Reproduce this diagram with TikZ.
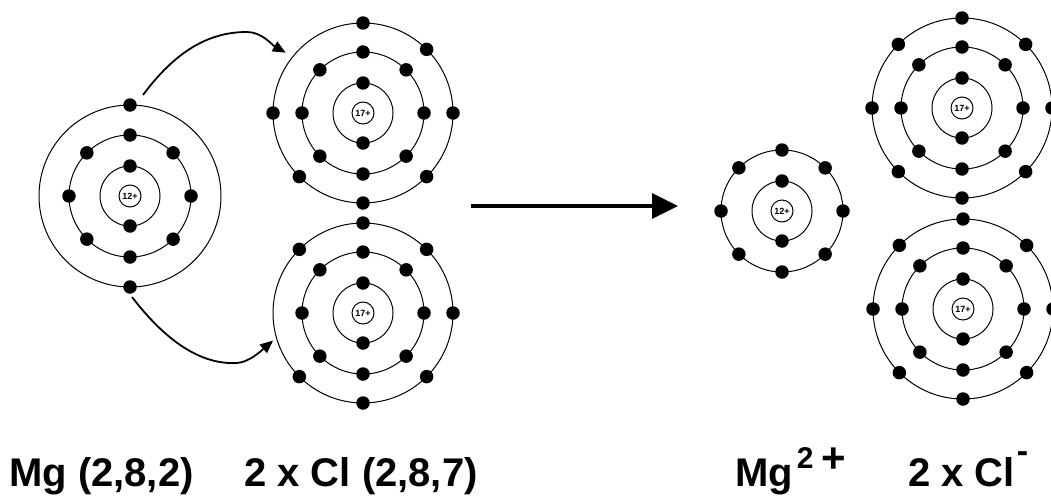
\documentclass[tikz,border=0pt]{standalone}
\usepackage{fontspec}
\setmainfont{Liberation Sans}
\usetikzlibrary{arrows.meta}
\begin{document}
\begin{tikzpicture}[x=1pt,y=-1pt,
  shell/.style={draw, line width=1pt},
  electron/.style={circle, fill=black, inner sep=0pt, minimum size=13.5pt},
  nucleus/.style={circle, draw, line width=1pt, minimum size=22pt, inner sep=0pt, font=\fontsize{9}{9}\selectfont\bfseries},
  caption/.style={anchor=base west, inner sep=0pt, font=\fontsize{40}{48}\selectfont\bfseries},
  transfer/.style={line width=1.8pt, -{Triangle[length=13pt,width=11pt]}},
  bigarrow/.style={line width=3.5pt, -{Triangle[length=26pt,width=25pt]}},
]
\useasboundingbox (0,0) rectangle (1051,495);
\clip (0,0) rectangle (1051,495);

% ---- Mg atom ----
\node[nucleus] (mg) at (130,196) {12+};
\foreach \r in {30,61,91} \draw[shell] (mg.center) circle[radius=\r pt];
\foreach \a in {90,270} \path (mg.center) ++(\a:30pt) node[electron]{};
\foreach \a in {0,45,...,315} \path (mg.center) ++(\a:61pt) node[electron]{};
\path (mg.center) ++(90:91pt) node[electron] (mgv1) {};
\path (mg.center) ++(270:91pt) node[electron] (mgv2) {};

% ---- Cl atom (top) ----
\node[nucleus] (cla) at (363,113) {17+};
\foreach \r in {30,61,90} \draw[shell] (cla.center) circle[radius=\r pt];
\foreach \a in {90,270} \path (cla.center) ++(\a:30pt) node[electron]{};
\foreach \a in {0,45,...,315} \path (cla.center) ++(\a:61pt) node[electron]{};
\foreach \a in {0,45,90,180,225,270,315} \path (cla.center) ++(\a:90pt) node[electron]{};
\path (cla.center) ++(142:98pt) coordinate (clagap);

% ---- Cl atom (bottom) ----
\node[nucleus] (clb) at (363,313) {17+};
\foreach \r in {30,61,90} \draw[shell] (clb.center) circle[radius=\r pt];
\foreach \a in {90,270} \path (clb.center) ++(\a:30pt) node[electron]{};
\foreach \a in {0,45,...,315} \path (clb.center) ++(\a:61pt) node[electron]{};
\foreach \a in {0,45,90,135,225,270,315} \path (clb.center) ++(\a:90pt) node[electron]{};
\path (clb.center) ++(197:94pt) coordinate (clbgap);

% ---- electron transfer arrows ----
\path (mgv1.center) ++(13,-10) coordinate (s1);
\path (mgv2.center) ++(2,10) coordinate (s2);
\draw[transfer] (s1) .. controls (180,45) and (215,32) .. (247,32)
  .. controls (262,32) and (272,45) .. (clagap);
\draw[transfer] (s2) .. controls (165,340) and (200,365) .. (237,363)
  .. controls (250,362) and (262,350) .. (clbgap);

% ---- reaction arrow ----
\coordinate (rs) at (471,206);
\coordinate (re) at (678,206);
\draw[bigarrow] (rs) -- (re);

% ---- Mg ion ----
\node[nucleus] (mgi) at (782,211) {12+};
\foreach \r in {30,61} \draw[shell] (mgi.center) circle[radius=\r pt];
\foreach \a in {90,270} \path (mgi.center) ++(\a:30pt) node[electron]{};
\foreach \a in {0,45,...,315} \path (mgi.center) ++(\a:61pt) node[electron]{};

% ---- Cl ions ----
\node[nucleus] (clia) at (962,108) {17+};
\node[nucleus] (clib) at (963,309) {17+};
\foreach \n in {clia,clib}{
  \foreach \r in {30,61,90} \draw[shell] (\n.center) circle[radius=\r pt];
  \foreach \a in {90,270} \path (\n.center) ++(\a:30pt) node[electron]{};
  \foreach \a in {0,45,...,315} \path (\n.center) ++(\a:61pt) node[electron]{};
  \foreach \a in {0,45,...,315} \path (\n.center) ++(\a:90pt) node[electron]{};
}

% ---- captions ----
\node[caption] (lmg) at (9,486) {Mg (2,8,2)};
\node[caption] (lcl) at (244,486) {2 x Cl (2,8,7)};
\node[caption] (lmgi) at (735,486) {Mg\hspace{4pt}\raisebox{17.7pt}{\fontsize{30}{30}\selectfont 2}\hspace{7.5pt}\raisebox{13.7pt}{\fontsize{42}{42}\selectfont +}};
\node[caption] (lcli) at (908,486) {2 x Cl\hspace{2pt}\raisebox{24pt}{\fontsize{34}{34}\selectfont -}};
\end{tikzpicture}
\end{document}
